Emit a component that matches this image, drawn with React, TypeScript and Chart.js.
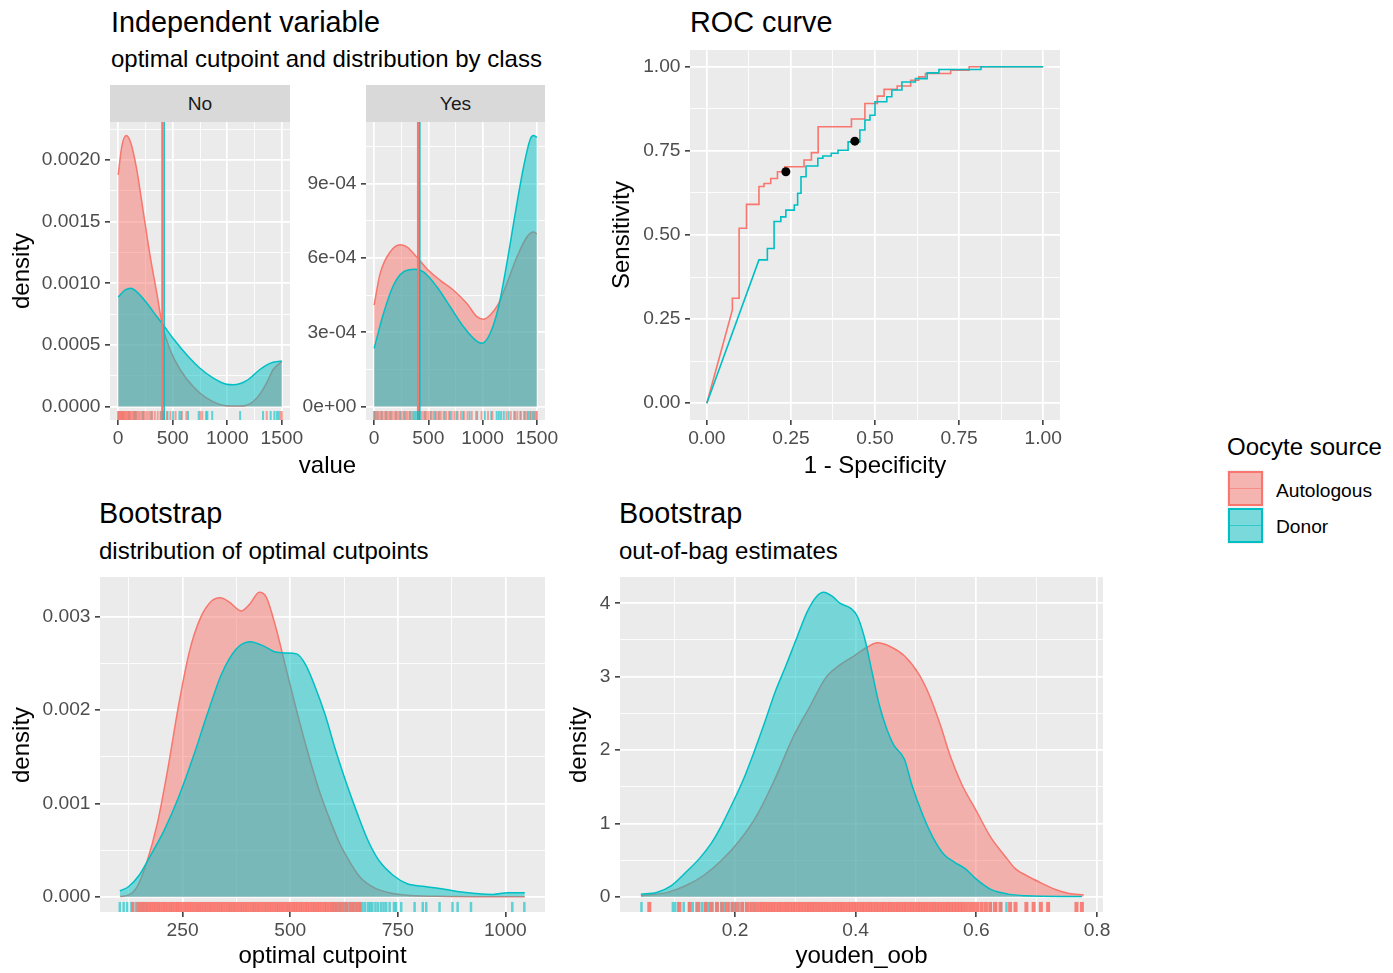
import React, { useEffect, useRef } from 'react';
import { Chart, registerables } from 'chart.js';

Chart.register(...registerables);

const FONT = "'Liberation Sans', Arial, Helvetica, sans-serif";
const RED = '#F8766D';
const TEAL = '#00BFC4';
const RED_FILL = 'rgba(248,118,109,0.5)';
const TEAL_FILL = 'rgba(0,191,196,0.5)';
const RED_RUG = 'rgba(248,118,109,0.65)';
const TEAL_RUG = 'rgba(0,191,196,0.6)';
const RED_RUG_DENSE = 'rgba(248,118,109,0.9)';

const groups = ['Autologous', 'Donor'];

// ---------- Independent variable: class "No" ----------
const noAutoX = [0, 33, 73, 116, 171, 232, 293, 354, 405, 476, 567, 689, 811, 994, 1116, 1177, 1238, 1299, 1360, 1421, 1500];
const noAutoY = [0.00188, 0.00211, 0.0022, 0.00214, 0.00192, 0.00157, 0.00122, 0.00092, 0.00066, 0.00046, 0.0003, 0.00016, 0.000068, 0.000005, 0.000003, 0.00001, 0.00004, 0.0001, 0.00019, 0.0003, 0.000365];
const noDonorX = [0, 64, 116, 171, 262, 354, 415, 506, 628, 750, 872, 994, 1055, 1177, 1299, 1390, 1500];
const noDonorY = [0.00089, 0.000946, 0.00096, 0.00093, 0.00084, 0.00073, 0.00066, 0.00055, 0.00042, 0.00031, 0.00023, 0.00018, 0.000176, 0.00021, 0.0003, 0.00035, 0.00037];
const noAutoRug = [0, 6, 12, 18, 25, 31, 38, 44, 52, 60, 67, 75, 84, 92, 101, 110, 120, 131, 142, 153, 166, 178, 192, 206, 221, 237, 254, 272, 291, 312, 336, 362, 393, 445, 478, 526, 583, 625, 752, 771, 1362, 1488, 1500];
const noDonorRug = [3, 40, 98, 148, 162, 228, 305, 388, 416, 452, 503, 561, 578, 640, 738, 806, 818, 862, 1118, 1328, 1398, 1432, 1455, 1472];

// ---------- Independent variable: class "Yes" ----------
const yesAutoX = [0, 55, 148, 240, 301, 393, 486, 609, 732, 855, 947, 1008, 1070, 1147, 1223, 1316, 1408, 1469, 1500];
const yesAutoY = [0.00041, 0.000537, 0.000625, 0.000654, 0.000645, 0.000604, 0.000557, 0.00051, 0.00047, 0.000416, 0.000363, 0.000353, 0.00037, 0.000416, 0.000497, 0.000604, 0.000685, 0.000705, 0.000698];
const yesDonorX = [0, 86, 178, 270, 378, 455, 578, 701, 824, 931, 993, 1070, 1147, 1223, 1300, 1377, 1439, 1469, 1500];
const yesDonorY = [0.000235, 0.000376, 0.00049, 0.000544, 0.000555, 0.000544, 0.000484, 0.000403, 0.000322, 0.000269, 0.000255, 0.000296, 0.000403, 0.000578, 0.000779, 0.000967, 0.00108, 0.001095, 0.001088];
const yesAutoRug = [8, 25, 45, 62, 80, 100, 118, 135, 155, 170, 190, 210, 228, 250, 270, 290, 305, 325, 345, 440, 460, 480, 500, 525, 545, 570, 590, 615, 640, 665, 690, 715, 740, 770, 800, 830, 860, 900, 940, 990, 1050, 1090, 1220, 1260, 1290, 1320, 1350, 1380, 1410, 1440, 1470, 1495, 1500];
const yesDonorRug = [0, 5, 30, 70, 110, 150, 200, 240, 280, 330, 360, 375, 390, 405, 420, 470, 520, 560, 600, 650, 700, 760, 820, 880, 950, 1020, 1080, 1130, 1150, 1170, 1195, 1240, 1300, 1350, 1390, 1420, 1440, 1460, 1480];

// optimal cutpoints (vertical lines)
const cutpointAuto = 404;
const cutpointDonor = 421;

// ---------- ROC curve (step vertices) ----------
const rocAutoFpr = [0, 0.076, 0.076, 0.096, 0.118, 0.155, 0.17, 0.19, 0.21, 0.232, 0.289, 0.311, 0.331, 0.43, 0.47, 0.507, 0.527, 0.566, 0.606, 0.63, 0.65, 0.725, 0.78, 1.0];
const rocAutoTpr = [0, 0.277, 0.312, 0.52, 0.591, 0.644, 0.653, 0.668, 0.688, 0.703, 0.723, 0.745, 0.822, 0.845, 0.891, 0.913, 0.933, 0.943, 0.96, 0.97, 0.98, 0.99, 1.0, 1.0];
const rocDonorFpr = [0, 0.155, 0.18, 0.2, 0.22, 0.235, 0.26, 0.27, 0.28, 0.295, 0.33, 0.345, 0.37, 0.39, 0.42, 0.455, 0.47, 0.485, 0.5, 0.535, 0.55, 0.58, 0.62, 0.655, 0.69, 0.815, 1.0];
const rocDonorTpr = [0, 0.426, 0.46, 0.54, 0.554, 0.574, 0.589, 0.624, 0.673, 0.705, 0.728, 0.735, 0.743, 0.752, 0.777, 0.812, 0.842, 0.856, 0.896, 0.911, 0.931, 0.955, 0.965, 0.982, 0.992, 1.0, 1.0];
const optimalFpr = [0.235, 0.44];
const optimalTpr = [0.688, 0.779];

// ---------- Bootstrap: optimal cutpoints ----------
const cutAutoX = [105, 125, 142, 166, 191, 216, 241, 266, 291, 316, 337, 357, 386, 407, 428, 444, 465, 490, 515, 540, 565, 590, 615, 640, 664, 698, 739, 780, 863, 946, 1045];
const cutAutoY = [0.000004, 0.00002, 0.00009, 0.00036, 0.00078, 0.00138, 0.00206, 0.00263, 0.00298, 0.00316, 0.0032, 0.00316, 0.00306, 0.00314, 0.00326, 0.00321, 0.00291, 0.00245, 0.00199, 0.00156, 0.00117, 0.00085, 0.00057, 0.00036, 0.0002, 0.00009, 0.000035, 0.000014, 0.000004, 0.000001, 0];
const cutDonorX = [104, 124, 149, 174, 207, 241, 274, 307, 340, 374, 407, 440, 465, 490, 515, 535, 556, 581, 606, 631, 656, 681, 706, 739, 772, 813, 847, 888, 930, 971, 1005, 1045];
const cutDonorY = [0.000064, 0.000107, 0.00023, 0.00043, 0.00071, 0.00107, 0.00149, 0.00195, 0.00238, 0.00265, 0.00273, 0.00268, 0.00262, 0.00261, 0.0026, 0.00249, 0.00227, 0.00195, 0.00156, 0.00121, 0.00089, 0.0006, 0.00039, 0.00023, 0.00014, 0.00011, 0.000089, 0.000057, 0.000036, 0.000025, 0.000043, 0.000043];
const cutAutoRug = [134, 146, 153, 159, 166, 172, 177, 183, 188, 194, 199, 205, 210, 216, 222, 227, 233, 238, 243, 249, 255, 260, 266, 271, 277, 283, 288, 294, 300, 305, 311, 316, 322, 328, 333, 339, 344, 350, 356, 361, 367, 372, 378, 384, 389, 395, 400, 406, 412, 417, 423, 428, 434, 440, 445, 451, 456, 462, 468, 473, 479, 484, 490, 496, 501, 507, 512, 518, 524, 529, 535, 540, 546, 552, 557, 563, 568, 574, 580, 585, 591, 597, 603, 609, 616, 623, 631, 639, 646, 653, 661];
const cutDonorRug = [104, 113, 121, 131, 141, 150, 158, 166, 598, 606, 613, 619, 627, 633, 641, 647, 656, 663, 668, 674, 681, 686, 691, 698, 704, 711, 717, 723, 731, 741, 746, 758, 789, 808, 816, 847, 877, 889, 920, 1016, 1044];

// ---------- Bootstrap: out-of-bag Youden ----------
const oobAutoX = [0.044, 0.088, 0.118, 0.148, 0.177, 0.207, 0.237, 0.267, 0.296, 0.326, 0.35, 0.374, 0.397, 0.421, 0.436, 0.457, 0.481, 0.505, 0.522, 0.54, 0.558, 0.576, 0.6, 0.624, 0.647, 0.665, 0.683, 0.707, 0.731, 0.754, 0.778];
const oobAutoY = [0.014, 0.06, 0.15, 0.29, 0.49, 0.76, 1.12, 1.62, 2.17, 2.62, 2.98, 3.16, 3.28, 3.41, 3.46, 3.41, 3.28, 3.03, 2.75, 2.35, 1.89, 1.53, 1.17, 0.81, 0.56, 0.38, 0.29, 0.19, 0.1, 0.045, 0.027];
const oobDonorX = [0.044, 0.07, 0.094, 0.118, 0.142, 0.16, 0.177, 0.195, 0.213, 0.231, 0.249, 0.267, 0.284, 0.302, 0.32, 0.335, 0.347, 0.362, 0.374, 0.392, 0.403, 0.415, 0.427, 0.439, 0.451, 0.463, 0.481, 0.493, 0.511, 0.528, 0.546, 0.564, 0.582, 0.6, 0.624, 0.653, 0.683, 0.743, 0.775];
const oobDonorY = [0.036, 0.059, 0.15, 0.33, 0.53, 0.72, 0.96, 1.26, 1.58, 1.96, 2.37, 2.8, 3.14, 3.52, 3.89, 4.09, 4.15, 4.09, 4.0, 3.93, 3.82, 3.52, 3.07, 2.62, 2.3, 2.07, 1.87, 1.53, 1.12, 0.81, 0.58, 0.47, 0.38, 0.24, 0.1, 0.036, 0.014, 0.005, 0.005];
const oobAutoRug = [0.058, 0.108, 0.125, 0.139, 0.151, 0.16, 0.17, 0.179, 0.187, 0.196, 0.203, 0.212, 0.22, 0.228, 0.235, 0.241, 0.245, 0.25, 0.254, 0.259, 0.263, 0.268, 0.273, 0.277, 0.282, 0.286, 0.291, 0.296, 0.3, 0.305, 0.309, 0.314, 0.319, 0.323, 0.328, 0.332, 0.337, 0.342, 0.346, 0.351, 0.355, 0.36, 0.365, 0.369, 0.374, 0.378, 0.383, 0.388, 0.392, 0.397, 0.401, 0.406, 0.411, 0.415, 0.42, 0.424, 0.429, 0.434, 0.438, 0.443, 0.447, 0.452, 0.457, 0.461, 0.466, 0.47, 0.475, 0.48, 0.484, 0.489, 0.493, 0.498, 0.503, 0.507, 0.512, 0.516, 0.521, 0.526, 0.53, 0.535, 0.539, 0.544, 0.549, 0.553, 0.558, 0.563, 0.568, 0.573, 0.578, 0.584, 0.59, 0.596, 0.602, 0.609, 0.616, 0.623, 0.631, 0.64, 0.656, 0.665, 0.683, 0.695, 0.707, 0.719, 0.766, 0.775];
const oobDonorRug = [0.045, 0.097, 0.101, 0.106, 0.115, 0.124, 0.13, 0.136, 0.145, 0.151, 0.155, 0.163, 0.171, 0.177, 0.183, 0.19, 0.195, 0.2, 0.207, 0.213, 0.219, 0.225, 0.232, 0.624, 0.633, 0.641, 0.65];

// ---------- tick labels ----------
const valueTicks = [0, 500, 1000, 1500];
const valueTickLabels = ['0', '500', '1000', '1500'];
const valueMinor = [250, 750, 1250];
const noDensTicks = [0, 0.0005, 0.001, 0.0015, 0.002];
const noDensLabels = ['0.0000', '0.0005', '0.0010', '0.0015', '0.0020'];
const noDensMinor = [0.00025, 0.00075, 0.00125, 0.00175, 0.00225];
const yesDensTicks = [0, 0.0003, 0.0006, 0.0009];
const yesDensLabels = ['0e+00', '3e-04', '6e-04', '9e-04'];
const yesDensMinor = [0.00015, 0.00045, 0.00075, 0.00105];
const rocTicks = [0, 0.25, 0.5, 0.75, 1];
const rocTickLabels = ['0.00', '0.25', '0.50', '0.75', '1.00'];
const rocMinor = [0.125, 0.375, 0.625, 0.875];
const cutTicks = [250, 500, 750, 1000];
const cutTickLabels = ['250', '500', '750', '1000'];
const cutMinor = [125, 375, 625, 875];
const cutDensTicks = [0, 0.001, 0.002, 0.003];
const cutDensLabels = ['0.000', '0.001', '0.002', '0.003'];
const cutDensMinor = [0.0005, 0.0015, 0.0025];
const oobTicks = [0.2, 0.4, 0.6, 0.8];
const oobTickLabels = ['0.2', '0.4', '0.6', '0.8'];
const oobMinor = [0.1, 0.3, 0.5, 0.7];
const oobDensTicks = [0, 1, 2, 3, 4];
const oobDensLabels = ['0', '1', '2', '3', '4'];
const oobDensMinor = [0.5, 1.5, 2.5, 3.5];

// ---------- helpers ----------
const pts = (xs: number[], ys: number[]) => xs.map((x, i) => ({ x, y: ys[i] }));

function stepCorners(fpr: number[], tpr: number[]) {
  const out = [{ x: fpr[0], y: tpr[0] }, { x: fpr[1], y: tpr[1] }];
  for (let i = 2; i < fpr.length; i++) {
    out.push({ x: fpr[i], y: tpr[i - 1] });
    out.push({ x: fpr[i], y: tpr[i] });
  }
  return out;
}

function densityDs(label: string, xs: number[], ys: number[], color: string, fill: string, order: number) {
  return {
    label, data: pts(xs, ys), showLine: true, borderColor: color, backgroundColor: fill,
    borderWidth: 1.5, pointRadius: 0, pointHoverRadius: 0, fill: 'origin',
    cubicInterpolationMode: 'monotone', order,
  };
}

function rugDs(label: string, vals: number[], color: string, yAx: any, plotH: number, width: number, order: number) {
  const r = 0.015 * plotH;
  const yv = yAx.min + 0.015 * (yAx.max - yAx.min);
  return {
    label, data: vals.map((v) => ({ x: v, y: yv })), showLine: false, pointStyle: 'line',
    pointRotation: 90, pointRadius: r, pointHoverRadius: r, pointBorderColor: color,
    pointBackgroundColor: color, pointBorderWidth: width, order,
  };
}

function vlineDs(label: string, x: number, yAx: any, color: string, width: number, order: number) {
  return {
    label, data: [{ x, y: yAx.min }, { x, y: yAx.max }], showLine: true, borderColor: color,
    borderWidth: width, pointRadius: 0, pointHoverRadius: 0, fill: false, order,
  };
}

const panelBg = {
  id: 'panelBg',
  beforeDraw(chart: any) {
    const { ctx, chartArea } = chart;
    ctx.save();
    ctx.fillStyle = '#EBEBEB';
    ctx.fillRect(chartArea.left, chartArea.top, chartArea.right - chartArea.left, chartArea.bottom - chartArea.top);
    ctx.restore();
  },
};

function axisOpts(ax: any, which: 'x' | 'y', fit: number) {
  const all = [...ax.majors, ...ax.minors].sort((a: number, b: number) => a - b);
  const tol = (ax.max - ax.min) * 1e-6;
  const majorIdx = (v: number) => ax.majors.findIndex((m: number) => Math.abs(m - v) < tol);
  return {
    type: 'linear',
    min: ax.min,
    max: ax.max,
    afterBuildTicks: (s: any) => { s.ticks = all.map((v: number) => ({ value: v })); },
    afterFit: (s: any) => { if (which === 'y') s.width = fit; else s.height = fit; },
    border: { display: false },
    grid: {
      color: '#FFFFFF',
      lineWidth: (c: any) => (c.tick && majorIdx(c.tick.value) >= 0 ? 1.7 : 0.85),
      drawTicks: true,
      tickLength: 5,
      tickWidth: 1.5,
      tickColor: (c: any) => (c.tick && majorIdx(c.tick.value) >= 0 ? '#333333' : 'rgba(0,0,0,0)'),
    },
    ticks: {
      autoSkip: false, maxRotation: 0, minRotation: 0,
      padding: which === 'y' ? 4.5 : 2.5,
      color: '#4D4D4D',
      font: { family: FONT, size: 19.2 },
      callback: (v: any) => { const i = majorIdx(Number(v)); return i >= 0 ? ax.labels[i] : ''; },
    },
  };
}

const Y_W = 95, X_H = 35, PAD_T = 20, PAD_R = 30;

function PanelChart({ area, xAx, yAx, datasets }: any) {
  const ref = useRef<HTMLCanvasElement>(null);
  const w = area.r - area.l + Y_W + PAD_R;
  const h = area.b - area.t + PAD_T + X_H;
  useEffect(() => {
    const chart = new Chart(ref.current as HTMLCanvasElement, {
      type: 'line',
      data: { datasets },
      options: {
        animation: false, responsive: false, maintainAspectRatio: false, devicePixelRatio: 1,
        events: [],
        layout: { padding: { top: PAD_T, right: PAD_R, left: 0, bottom: 0 } },
        plugins: { legend: { display: false }, tooltip: { enabled: false } },
        scales: { x: axisOpts(xAx, 'x', X_H), y: axisOpts(yAx, 'y', Y_W) },
      } as any,
      plugins: [panelBg],
    } as any);
    return () => chart.destroy();
  }, []);
  return (
    <canvas ref={ref} width={w} height={h}
      style={{ position: 'absolute', left: area.l - Y_W, top: area.t - PAD_T, width: w, height: h }} />
  );
}

// ---------- panel geometry & axes ----------
const areaNo = { l: 110, t: 122, r: 290, b: 420 };
const areaYes = { l: 366, t: 122, r: 545, b: 420 };
const areaRoc = { l: 690, t: 50, r: 1060, b: 420 };
const areaCut = { l: 100, t: 577, r: 545, b: 912 };
const areaOob = { l: 620, t: 577, r: 1103, b: 912 };

const xValue = { min: -75, max: 1575, majors: valueTicks, labels: valueTickLabels, minors: valueMinor };
const yNo = { min: -0.00011, max: 0.00231, majors: noDensTicks, labels: noDensLabels, minors: noDensMinor };
const yYes = { min: -0.0000548, max: 0.00115, majors: yesDensTicks, labels: yesDensLabels, minors: yesDensMinor };
const xRoc = { min: -0.05, max: 1.05, majors: rocTicks, labels: rocTickLabels, minors: rocMinor };
const yRoc = { min: -0.05, max: 1.05, majors: rocTicks, labels: rocTickLabels, minors: rocMinor };
const xCut = { min: 58, max: 1092, majors: cutTicks, labels: cutTickLabels, minors: cutMinor };
const yCut = { min: -0.000163, max: 0.003423, majors: cutDensTicks, labels: cutDensLabels, minors: cutDensMinor };
const xOob = { min: 0.0094, max: 0.81, majors: oobTicks, labels: oobTickLabels, minors: oobMinor };
const yOob = { min: -0.2075, max: 4.3575, majors: oobDensTicks, labels: oobDensLabels, minors: oobDensMinor };

function facetDatasets(autoX: number[], autoY: number[], donorX: number[], donorY: number[], autoRug: number[], donorRug: number[], yAx: any, plotH: number) {
  return [
    rugDs(groups[0] + ' rug', autoRug, RED_RUG, yAx, plotH, 2, 0),
    rugDs(groups[1] + ' rug', donorRug, TEAL_RUG, yAx, plotH, 2, 1),
    vlineDs(groups[0] + ' cutpoint', cutpointAuto, yAx, RED, 2, 2),
    vlineDs(groups[1] + ' cutpoint', cutpointDonor, yAx, TEAL, 1.5, 3),
    densityDs(groups[1], donorX, donorY, TEAL, TEAL_FILL, 4),
    densityDs(groups[0], autoX, autoY, RED, RED_FILL, 5),
  ];
}

const txt = (s: string, left: number, top: number, fs: number, extra: any = {}) => (
  <div style={{ position: 'absolute', left, top, fontSize: fs, lineHeight: `${fs}px`, whiteSpace: 'nowrap', fontFamily: FONT, color: '#000', ...extra }}>{s}</div>
);
const ctxt = (s: string, cx: number, top: number, fs: number) =>
  txt(s, cx, top, fs, { transform: 'translateX(-50%)' });
const vtxt = (s: string, cx: number, cy: number, fs: number) =>
  txt(s, cx, cy, fs, { transform: 'translate(-50%, -50%) rotate(-90deg)' });

function Strip({ area, label }: any) {
  return (
    <div style={{ position: 'absolute', left: area.l, top: 85, width: area.r - area.l, height: area.t - 85, background: '#D9D9D9', display: 'flex', alignItems: 'center', justifyContent: 'center', fontFamily: FONT, fontSize: 19.2, color: '#1A1A1A' }}>{label}</div>
  );
}

function LegendKey({ top, color, fill, line }: any) {
  return (
    <div style={{ position: 'absolute', left: 1227, top, width: 37, height: 37, background: '#F2F2F2' }}>
      <div style={{ position: 'absolute', left: 1, top: 1, width: 35, height: 35, boxSizing: 'border-box', border: `2px solid ${color}`, background: fill }} />
      <div style={{ position: 'absolute', left: 3, width: 31, top: 17.5, height: 1.5, background: line }} />
    </div>
  );
}

export default function App() {
  const hNo = areaNo.b - areaNo.t;
  const hYes = areaYes.b - areaYes.t;
  const hCut = areaCut.b - areaCut.t;
  const hOob = areaOob.b - areaOob.t;

  const noDs = facetDatasets(noAutoX, noAutoY, noDonorX, noDonorY, noAutoRug, noDonorRug, yNo, hNo);
  const yesDs = facetDatasets(yesAutoX, yesAutoY, yesDonorX, yesDonorY, yesAutoRug, yesDonorRug, yYes, hYes);

  const rocDs = [
    { label: 'optimal', data: pts(optimalFpr, optimalTpr), showLine: false, pointRadius: 4.5, pointHoverRadius: 4.5, pointBackgroundColor: '#000', pointBorderColor: '#000', pointBorderWidth: 0, order: 0 },
    { label: groups[1], data: stepCorners(rocDonorFpr, rocDonorTpr), showLine: true, borderColor: TEAL, borderWidth: 1.6, pointRadius: 0, fill: false, order: 1 },
    { label: groups[0], data: stepCorners(rocAutoFpr, rocAutoTpr), showLine: true, borderColor: RED, borderWidth: 1.6, pointRadius: 0, fill: false, order: 2 },
  ];

  const cutDs = [
    rugDs(groups[0] + ' rug', cutAutoRug, RED_RUG_DENSE, yCut, hCut, 3.2, 0),
    rugDs(groups[1] + ' rug', cutDonorRug, TEAL_RUG, yCut, hCut, 2.5, 1),
    densityDs(groups[1], cutDonorX, cutDonorY, TEAL, TEAL_FILL, 2),
    densityDs(groups[0], cutAutoX, cutAutoY, RED, RED_FILL, 3),
  ];
  const oobDs = [
    rugDs(groups[0] + ' rug', oobAutoRug, RED_RUG_DENSE, yOob, hOob, 4, 0),
    rugDs(groups[1] + ' rug', oobDonorRug, TEAL_RUG, yOob, hOob, 2.5, 1),
    densityDs(groups[1], oobDonorX, oobDonorY, TEAL, TEAL_FILL, 2),
    densityDs(groups[0], oobAutoX, oobAutoY, RED, RED_FILL, 3),
  ];

  return (
    <div style={{ position: 'absolute', left: 0, top: 0, width: 1393, height: 973, background: '#FFFFFF', overflow: 'hidden', fontFamily: FONT }}>
      {txt('Independent variable', 111, 7.9, 28.8)}
      {txt('optimal cutpoint and distribution by class', 111, 47, 24)}
      {txt('ROC curve', 690, 7.9, 28.8)}
      {txt('Bootstrap', 99, 499.4, 28.8)}
      {txt('distribution of optimal cutpoints', 99, 538.5, 24)}
      {txt('Bootstrap', 619, 499.4, 28.8)}
      {txt('out-of-bag estimates', 619, 538.5, 24)}

      <Strip area={areaNo} label="No" />
      <Strip area={areaYes} label="Yes" />

      <PanelChart area={areaNo} xAx={xValue} yAx={yNo} datasets={noDs} />
      <PanelChart area={areaYes} xAx={xValue} yAx={yYes} datasets={yesDs} />
      <PanelChart area={areaRoc} xAx={xRoc} yAx={yRoc} datasets={rocDs} />
      <PanelChart area={areaCut} xAx={xCut} yAx={yCut} datasets={cutDs} />
      <PanelChart area={areaOob} xAx={xOob} yAx={yOob} datasets={oobDs} />

      {ctxt('value', 327.5, 453, 24)}
      {ctxt('1 - Specificity', 875, 453, 24)}
      {ctxt('optimal cutpoint', 322.5, 942.5, 24)}
      {ctxt('youden_oob', 861.5, 942.5, 24)}
      {vtxt('density', 21, 271, 24)}
      {vtxt('Sensitivity', 621, 235, 24)}
      {vtxt('density', 20.5, 744.5, 24)}
      {vtxt('density', 577.7, 744.5, 24)}

      {txt('Oocyte source', 1227, 434.7, 24)}
      <LegendKey top={470} color={RED} fill={RED_FILL} line="rgba(248,118,109,0.6)" />
      <LegendKey top={507} color={TEAL} fill={TEAL_FILL} line="rgba(0,191,196,0.6)" />
      {txt(groups[0], 1276, 481, 19.2)}
      {txt(groups[1], 1276, 517, 19.2)}
    </div>
  );
}
